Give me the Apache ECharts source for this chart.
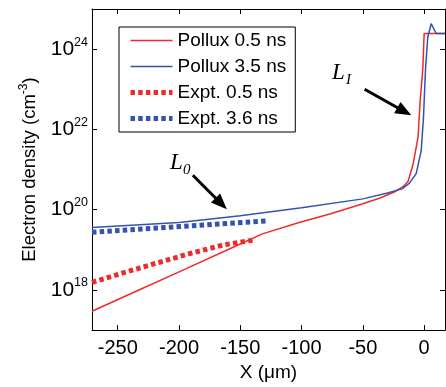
<!DOCTYPE html>
<html>
<head>
<meta charset="utf-8">
<script src="https://cdn.jsdelivr.net/npm/echarts@6.0.0/dist/echarts.min.js"></script>
<style>
  html, body { margin: 0; padding: 0; background: #fff; }
  #chart { width: 446px; height: 387px; }
</style>
</head>
<body>
<div id="chart"></div>
<script>
// positions in um, densities in cm^-3
const polluxEarlyX = [-271, -235, -199, -159, -132, -102, -77, -50, -36, -24, -17, -13, -9, -5, -3.3, -1.1, 0, 17];
const polluxEarlyN = [2.95e17, 9.3e17, 2.9e18, 1.05e19, 2.5e19, 4.8e19, 7.8e19, 1.41e20, 1.95e20, 2.8e20, 3.8e20, 5.2e20, 1.38e21, 6.3e21, 5.0e22, 3.2e23, 2.45e24, 2.45e24];

const polluxLateX = [-271, -200, -150, -100, -50, -30, -18, -12, -6.5, -2.4, -0.6, 1.1, 2.9, 5.7, 9.8, 17];
const polluxLateN = [3.6e19, 4.8e19, 7.1e19, 1.12e20, 1.86e20, 2.6e20, 3.3e20, 4.6e20, 7.9e20, 2.95e21, 1.86e22, 3.1e23, 1.95e24, 4.3e24, 2.45e24, 2.45e24];

const exptEarlyX = [-271, -245, -218, -191, -164, -140];
const exptEarlyN = [1.55e18, 2.7e18, 4.7e18, 8.1e18, 1.32e19, 1.74e19];

const exptLateX = [-271, -200, -129];
const exptLateN = [2.75e19, 3.8e19, 5.25e19];

const xTicks = [-250, -200, -150, -100, -50, 0];
const yTicks = [1e18, 1e20, 1e22, 1e24];

const RED = "#ee2a2a";
const BLUE = "#3552ad";
const FONT = "Liberation Sans";
const DOTS = { width: 5, type: [4.5, 3.2], cap: "butt" };

const zip = (xs, ys) => xs.map((x, i) => [x, ys[i]]);

const chart = echarts.init(document.getElementById("chart"));

const frameLine = { onZero: false, lineStyle: { color: "#000", width: 1 } };

const xBase = {
  type: "value",
  min: -271,
  max: 17,
  axisLine: frameLine,
  axisTick: { inside: true, length: 5, customValues: xTicks, lineStyle: { color: "#000" } },
  splitLine: { show: false },
};
const yBase = {
  type: "log",
  logBase: 10,
  min: 1e17,
  max: 1e25,
  axisLine: frameLine,
  axisTick: { inside: true, length: 5, customValues: yTicks, lineStyle: { color: "#000" } },
  splitLine: { show: false },
  minorTick: { show: false },
};

const line = (name, xs, ys, color, dotted) => ({
  name,
  type: "line",
  data: zip(xs, ys),
  symbol: "none",
  lineStyle: dotted ? Object.assign({ color }, DOTS) : { color, width: 1.5 },
  itemStyle: { color },
  z: dotted ? 3 : 2,
});

const series = [
  line("Pollux 0.5 ns", polluxEarlyX, polluxEarlyN, RED, false),
  line("Pollux 3.5 ns", polluxLateX, polluxLateN, BLUE, false),
  line("Expt. 0.5 ns", exptEarlyX, exptEarlyN, RED, true),
  line("Expt. 3.6 ns", exptLateX, exptLateN, BLUE, true),
];

// annotation arrows (L0, LI)
series[0].markLine = {
  silent: true,
  symbol: ["none", "triangle"],
  symbolSize: [13, 16],
  label: { show: false },
  lineStyle: { color: "#000", width: 3, type: "solid" },
  data: [
    [{ coord: [-188.7, 7.2e20] }, { coord: [-165.6, 1.41e20] }],
    [{ coord: [-48.6, 1e23] }, { coord: [-16.2, 2.8e22] }],
  ],
};

chart.setOption({
  animation: false,
  backgroundColor: "#fff",
  textStyle: { fontFamily: FONT, color: "#000" },
  grid: { left: 92, right: 1, top: 9, bottom: 49 },
  legend: {
    orient: "vertical",
    left: 119,
    top: 27,
    padding: [4, 9, 4, 9],
    itemWidth: 42,
    itemHeight: 20,
    itemGap: 7,
    selectedMode: false,
    backgroundColor: "#fff",
    borderColor: "#000",
    borderWidth: 1,
    borderRadius: 0,
    itemStyle: { opacity: 0 },
    data: [
      { name: "Pollux 0.5 ns", lineStyle: { width: 1.5 } },
      { name: "Pollux 3.5 ns", lineStyle: { width: 1.5 } },
      { name: "Expt. 0.5 ns", lineStyle: DOTS },
      { name: "Expt. 3.6 ns", lineStyle: DOTS },
    ],
    textStyle: { fontFamily: FONT, fontSize: 19, color: "#000" },
  },
  xAxis: [
    Object.assign({}, xBase, {
      position: "bottom",
      name: "X (\u03bcm)",
      nameLocation: "middle",
      nameGap: 30,
      nameTextStyle: { fontFamily: FONT, fontSize: 19, color: "#000" },
      axisLabel: { customValues: xTicks, margin: 8, fontFamily: FONT, fontSize: 20, color: "#000" },
    }),
    Object.assign({}, xBase, { position: "top", axisLabel: { show: false } }),
  ],
  yAxis: [
    Object.assign({}, yBase, {
      position: "left",
      name: "{n|Electron density (cm}{s|-3}{n|)}",
      nameLocation: "middle",
      nameGap: 44,
      nameTextStyle: {
        rich: {
          n: { fontFamily: FONT, fontSize: 18.5, color: "#000", lineHeight: 26, verticalAlign: "middle" },
          s: { fontFamily: FONT, fontSize: 12, color: "#000", lineHeight: 12, verticalAlign: "top" },
        },
      },
      axisLabel: {
        customValues: yTicks,
        margin: 4,
        formatter: (v) => "{b|10}{s|" + Math.round(Math.log10(v)) + "}",
        rich: {
          b: { fontFamily: FONT, fontSize: 21, color: "#000", lineHeight: 27, verticalAlign: "middle" },
          s: { fontFamily: FONT, fontSize: 12.5, color: "#000", lineHeight: 9, verticalAlign: "top" },
        },
      },
    }),
    Object.assign({}, yBase, { position: "right", axisLabel: { show: false } }),
  ],
  graphic: [
    { type: "text", left: 170, top: 151, style: { text: "L", font: "italic 23px 'Liberation Serif'", fill: "#000" } },
    { type: "text", left: 183, top: 163, style: { text: "0", font: "italic 15px 'Liberation Serif'", fill: "#000" } },
    { type: "text", left: 332, top: 61, style: { text: "L", font: "italic 23px 'Liberation Serif'", fill: "#000" } },
    { type: "text", left: 346, top: 73, style: { text: "I", font: "italic 15px 'Liberation Serif'", fill: "#000" } },
  ],
  series,
});
</script>
</body>
</html>
